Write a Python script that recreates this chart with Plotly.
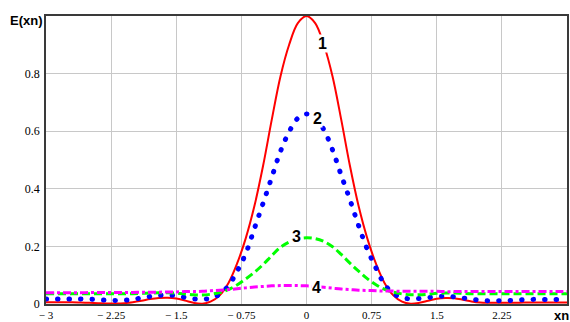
import numpy as np
import plotly.graph_objects as go

# abscissa grid, -3 ... 3 in steps of 0.1
xn = np.round(np.arange(-30, 31) / 10.0, 1)

# curve 1 (solid red)
e1 = [0.006, 0.006, 0.006, 0.006, 0.005, 0.004, 0.003, 0.002, 0.002, 0.003,
      0.006, 0.011, 0.017, 0.021, 0.022, 0.019, 0.012, 0.004, 0.001, 0.009,
      0.030, 0.072, 0.140, 0.228, 0.340, 0.480, 0.640, 0.790, 0.900, 0.975,
      1.000,
      0.975, 0.900, 0.790, 0.640, 0.480, 0.340, 0.228, 0.140, 0.072, 0.030,
      0.008, 0.001, 0.004, 0.011, 0.018, 0.021, 0.020, 0.015, 0.009, 0.005,
      0.004, 0.004, 0.004, 0.004, 0.005, 0.005, 0.005, 0.005, 0.005, 0.005]

# curve 2 (blue dots)
e2 = [0.017, 0.017, 0.017, 0.017, 0.017, 0.017, 0.015, 0.013, 0.012, 0.013,
      0.016, 0.021, 0.026, 0.030, 0.031, 0.029, 0.023, 0.018, 0.017, 0.020,
      0.034, 0.063, 0.113, 0.175, 0.262, 0.350, 0.440, 0.530, 0.598, 0.645,
      0.660,
      0.648, 0.605, 0.535, 0.447, 0.362, 0.272, 0.190, 0.125, 0.068, 0.036,
      0.022, 0.018, 0.019, 0.022, 0.026, 0.027, 0.025, 0.021, 0.017, 0.013,
      0.011, 0.011, 0.012, 0.013, 0.015, 0.016, 0.016, 0.016, 0.016, 0.016]

# curve 3 (green dashes)
e3 = [0.036, 0.036, 0.036, 0.036, 0.036, 0.036, 0.036, 0.036, 0.036, 0.036,
      0.036, 0.037, 0.038, 0.039, 0.039, 0.038, 0.035, 0.032, 0.031, 0.034,
      0.040, 0.050, 0.066, 0.087, 0.110, 0.137, 0.168, 0.197, 0.215, 0.226,
      0.230,
      0.227, 0.217, 0.199, 0.172, 0.142, 0.114, 0.088, 0.067, 0.051, 0.041,
      0.035, 0.032, 0.032, 0.034, 0.037, 0.038, 0.038, 0.037, 0.036, 0.036,
      0.036, 0.036, 0.036, 0.036, 0.036, 0.036, 0.036, 0.036, 0.036, 0.036]

# curve 4 (magenta dash-dot)
e4 = [0.039, 0.039, 0.039, 0.039, 0.039, 0.040, 0.040, 0.040, 0.040, 0.040,
      0.040, 0.041, 0.041, 0.041, 0.042, 0.042, 0.043, 0.043, 0.044, 0.046,
      0.048, 0.050, 0.053, 0.056, 0.059, 0.061, 0.063, 0.064, 0.064, 0.064,
      0.063,
      0.061, 0.058, 0.055, 0.052, 0.050, 0.048, 0.047, 0.046, 0.045, 0.045,
      0.044, 0.044, 0.044, 0.044, 0.044, 0.043, 0.043, 0.043, 0.043, 0.043,
      0.043, 0.043, 0.043, 0.043, 0.043, 0.043, 0.043, 0.043, 0.043, 0.043]

x_ticks = [-3, -2.25, -1.5, -0.75, 0, 0.75, 1.5, 2.25, 3]
x_tick_text = ["\u2212 3", "\u2212 2.25", "\u2212 1.5", "\u2212 0.75", "0",
               "0.75", "1.5", "2.25", ""]
y_ticks = [0, 0.2, 0.4, 0.6, 0.8, 1.0]
y_tick_text = ["0", "0.2", "0.4", "0.6", "0.8", ""]

# curve labels: text, x, y
curve_labels = [("1", 0.18, 0.905), ("2", 0.13, 0.644),
                ("3", -0.115, 0.234), ("4", 0.11, 0.057)]

fig = go.Figure()
fig.add_trace(go.Scatter(x=xn, y=e1, mode="lines", line_shape="spline",
                         line=dict(color="#ff0000", width=2)))
fig.add_trace(go.Scatter(x=xn, y=e2, mode="lines", line_shape="spline",
                         line=dict(color="#0000ff", width=5, dash="0.5px,11px")))
fig.add_trace(go.Scatter(x=xn, y=e3, mode="lines", line_shape="spline",
                         line=dict(color="#00ff00", width=3, dash="8px,4px")))
fig.add_trace(go.Scatter(x=xn, y=e4, mode="lines", line_shape="spline",
                         line=dict(color="#ff00ff", width=3,
                                   dash="8px,3px,3px,3px")))

for txt, lx, ly in curve_labels:
    fig.add_annotation(x=lx, y=ly, text="<b>%s</b>" % txt, showarrow=False,
                       bgcolor="white", borderpad=0,
                       font=dict(family="Liberation Sans", size=16, color="black"))

fig.add_annotation(xref="paper", yref="paper", x=-0.038, y=0.986,
                   xanchor="center", yanchor="middle",
                   text="<b>E(xn)</b>", showarrow=False,
                   font=dict(family="Liberation Sans", size=13, color="black"))
fig.add_annotation(xref="paper", yref="paper", x=0.99, y=-0.04,
                   xanchor="center", yanchor="middle",
                   text="<b>xn</b>", showarrow=False,
                   font=dict(family="Liberation Sans", size=13, color="black"))

axis_common = dict(showgrid=True, gridcolor="#c8c8c8", gridwidth=1,
                   zeroline=False, showline=True, linecolor="#3a3a3a",
                   linewidth=1.5, mirror=True, ticks="", automargin=False)

fig.update_xaxes(range=[-3, 3], tickmode="array", tickvals=x_ticks,
                 ticktext=x_tick_text, ticklabelstandoff=0,
                 tickfont=dict(family="Liberation Serif", size=11,
                               color="black"), **axis_common)
fig.update_yaxes(range=[0, 1], tickmode="array", tickvals=y_ticks,
                 ticktext=y_tick_text, ticklabelstandoff=2,
                 tickfont=dict(family="Liberation Serif", size=12,
                               color="black"), **axis_common)

fig.update_layout(width=570, height=322, showlegend=False,
                  margin=dict(l=46, r=3, t=16, b=18, autoexpand=False),
                  paper_bgcolor="white", plot_bgcolor="white")

# round caps turn the short dashes of curve 2 into round dots
round_dots = """
var gd = document.getElementById('{plot_id}');
function roundDots() {
  var traces = gd.querySelectorAll('.scatterlayer .trace');
  if (traces.length > 1) {
    traces[1].querySelectorAll('path.js-line').forEach(function (p) {
      p.style.strokeLinecap = 'round';
    });
  }
}
roundDots();
if (gd.on) { gd.on('plotly_afterplot', roundDots); }
"""

fig.write_html("out.html", post_script=round_dots)
